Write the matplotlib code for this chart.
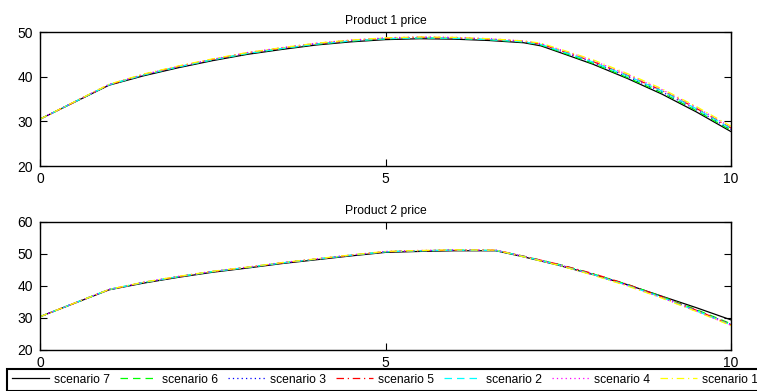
import matplotlib
matplotlib.use('Agg')
import matplotlib.pyplot as plt

plt.rcParams['font.family'] = ['Liberation Sans', 'DejaVu Sans']
plt.rcParams['font.size'] = 8.7

# data
x_top = [0, 1, 1.5, 2, 2.5, 3, 3.5, 4, 4.5, 5, 5.5, 6, 6.5, 7, 7.25, 7.6, 8, 8.5, 9, 9.5, 10]
x_bot = [0, 1, 1.5, 2, 2.5, 3, 3.5, 4, 4.5, 5, 5.5, 6, 6.6, 7, 7.5, 8, 8.5, 9, 9.5, 10]

names = ['scenario 7', 'scenario 6', 'scenario 3', 'scenario 5',
         'scenario 2', 'scenario 4', 'scenario 1']

p1 = {
    'scenario 7': [30.5, 38.1, 40.2, 42.0, 43.6, 45.0, 46.1, 47.1, 47.8, 48.3, 48.5, 48.4, 48.1, 47.6, 46.9, 45.0, 42.8, 39.6, 36.1, 32.1, 27.7],
    'scenario 6': [30.5, 38.2, 40.4, 42.2, 43.8, 45.2, 46.3, 47.3, 48.0, 48.5, 48.7, 48.6, 48.3, 47.8, 47.1, 45.2, 43.0, 39.8, 36.4, 32.4, 28.0],
    'scenario 3': [30.5, 38.2, 40.4, 42.2, 43.8, 45.3, 46.4, 47.4, 48.1, 48.6, 48.8, 48.7, 48.4, 47.9, 47.2, 45.4, 43.2, 40.0, 36.6, 32.6, 28.2],
    'scenario 5': [30.5, 38.2, 40.5, 42.3, 43.9, 45.3, 46.4, 47.4, 48.1, 48.6, 48.8, 48.7, 48.4, 47.9, 47.3, 45.5, 43.4, 40.3, 36.9, 32.9, 28.5],
    'scenario 2': [30.5, 38.2, 40.4, 42.2, 43.8, 45.2, 46.3, 47.3, 48.0, 48.5, 48.7, 48.6, 48.3, 47.8, 47.2, 45.4, 43.3, 40.2, 36.8, 32.8, 28.4],
    'scenario 4': [30.5, 38.3, 40.5, 42.3, 43.9, 45.4, 46.5, 47.5, 48.2, 48.7, 48.9, 48.8, 48.5, 48.0, 47.4, 45.7, 43.6, 40.5, 37.1, 33.1, 28.7],
    'scenario 1': [30.5, 38.3, 40.6, 42.4, 44.0, 45.4, 46.5, 47.5, 48.2, 48.7, 48.9, 48.8, 48.5, 48.0, 47.5, 45.8, 43.8, 40.7, 37.3, 33.3, 28.9],
}

p2 = {
    'scenario 7': [30.4, 38.8, 40.9, 42.7, 44.3, 45.6, 47.0, 48.2, 49.4, 50.5, 50.8, 51.0, 51.0, 49.1, 46.5, 43.6, 40.4, 36.8, 33.2, 29.4],
    'scenario 6': [30.4, 38.9, 41.1, 42.9, 44.5, 45.8, 47.2, 48.4, 49.6, 50.7, 51.0, 51.2, 51.1, 49.3, 46.8, 43.8, 40.5, 36.7, 32.6, 28.2],
    'scenario 3': [30.4, 38.9, 41.1, 42.9, 44.5, 45.8, 47.2, 48.4, 49.6, 50.7, 51.0, 51.2, 51.1, 49.2, 46.7, 43.7, 40.4, 36.6, 32.4, 28.0],
    'scenario 5': [30.4, 38.9, 41.1, 42.9, 44.5, 45.8, 47.2, 48.4, 49.6, 50.7, 51.0, 51.2, 51.2, 49.3, 46.8, 43.9, 40.5, 36.6, 32.4, 27.9],
    'scenario 2': [30.4, 38.9, 41.1, 42.9, 44.5, 45.8, 47.2, 48.4, 49.6, 50.7, 51.0, 51.2, 51.1, 49.2, 46.6, 43.6, 40.2, 36.4, 32.2, 27.8],
    'scenario 4': [30.4, 38.9, 41.2, 43.0, 44.6, 45.9, 47.3, 48.5, 49.7, 50.8, 51.1, 51.3, 51.2, 49.2, 46.6, 43.5, 40.1, 36.3, 32.1, 27.7],
    'scenario 1': [30.4, 38.9, 41.2, 43.0, 44.6, 45.9, 47.3, 48.5, 49.7, 50.8, 51.1, 51.3, 51.2, 49.1, 46.5, 43.4, 40.0, 36.2, 32.0, 27.6],
}

styles = {
    'scenario 7': ('k', '-'),
    'scenario 6': ('#00ff00', (0, (6, 4))),
    'scenario 3': ('#0000ff', (0, (1, 2.5))),
    'scenario 5': ('#ff0000', (0, (6, 3, 1, 3))),
    'scenario 2': ('#00ffff', (0, (6, 4))),
    'scenario 4': ('#ff00ff', (0, (1, 2.5))),
    'scenario 1': ('#ffff00', (0, (6, 3, 1, 3))),
}

fig = plt.figure(figsize=(7.57, 3.91), dpi=100)
ax1 = fig.add_axes([0.0528, 0.5754, 0.9129, 0.3427])
ax2 = fig.add_axes([0.0528, 0.1049, 0.9129, 0.3274])

for ax, xs, data, title, ylim, yt in [
        (ax1, x_top, p1, 'Product 1 price', (20, 50), [20, 30, 40, 50]),
        (ax2, x_bot, p2, 'Product 2 price', (20, 60), [20, 30, 40, 50, 60])]:
    for n in names:
        c, ls = styles[n]
        ax.plot(xs, data[n], color=c, linestyle=ls, linewidth=0.9, label=n)
    ax.set_xlim(0, 10)
    ax.set_ylim(*ylim)
    ax.set_xticks([0, 5, 10])
    ax.set_yticks(yt)
    ax.set_title(title, fontsize=8.7, pad=6)
    ax.tick_params(direction='in', length=5, width=0.8, top=True, right=True,
                   labelsize=10)
    ax.tick_params(axis='y', pad=5)
    ax.tick_params(axis='x', pad=4)
    for s in ax.spines.values():
        s.set_linewidth(1.0)

h, l = ax2.get_legend_handles_labels()
leg = fig.legend(h, l, loc='lower left', bbox_to_anchor=(7 / 757, 0.5 / 391),
                 ncol=7, fancybox=False, framealpha=1, edgecolor='k',
                 borderaxespad=0, borderpad=0.4, handlelength=3.06,
                 handletextpad=0.41, columnspacing=0.83, fontsize=8.7)
leg.get_frame().set_linewidth(1.5)

fig.savefig('out.png', dpi=100)
